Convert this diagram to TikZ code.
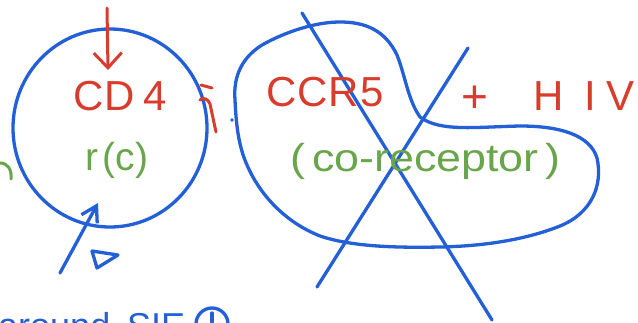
\documentclass[tikz,border=0pt]{standalone}
\usepackage{fontspec}
\setmainfont{Liberation Sans}
\usetikzlibrary{arrows.meta}
\definecolor{pen}{RGB}{35,95,215}
\definecolor{redpen}{RGB}{215,60,45}
\definecolor{greenpen}{RGB}{105,165,75}
\tikzset{
  ink/.style={draw=pen,line width=3.3pt,line cap=round,line join=round},
  redink/.style={draw=redpen,line width=3pt,line cap=round,line join=round},
  greenink/.style={draw=greenpen,line width=3pt,line cap=round},
  redtxt/.style={text=redpen,inner sep=0pt,font=\fontsize{42}{42}\selectfont},
  greentxt/.style={text=greenpen,inner sep=0pt,font=\fontsize{39}{39}\selectfont},
}
\begin{document}
\begin{tikzpicture}[x=1pt,y=-1pt]
\useasboundingbox (0,0) rectangle (638,322);
\clip (0,0) rectangle (638,322);
\fill[white] (0,0) rectangle (638,322);
% cell circle
\draw[ink] (110,128) ellipse [x radius=97,y radius=99];
% red arrow down to CD4
\draw[redink,-{Straight Barb[length=15pt,width=28pt]}] (107,8) -- (108,70);
\node[redtxt] (cd4) at (120,96) {C\kern1pt D\kern8pt 4};
\node[greentxt] (rc) at (117,160) {r\kern4pt(c)};
% blue arrow up
\draw[ink,-{Straight Barb[length=15pt,width=18pt]}] (60,273) -- (98,203);
\draw[ink] (92,251) -- (118,255) -- (97,268) -- cycle;
% green arc at left edge
\draw[greenink] (0,163) .. controls (8,163) and (12,170) .. (11,179);
% red mark
\draw[redink] (201,85) -- (212,88);
\draw[redink] (200,100) .. controls (204,97) and (208,99) .. (210,104) -- (216,132);
\fill[pen] (232,120) circle (1.8pt);
% blob
\draw[ink] (235,100) .. controls (233,75) and (243,57) .. (262,45)
  .. controls (285,32) and (315,22) .. (340,22)
  .. controls (365,22) and (385,30) .. (397,55)
  .. controls (405,75) and (408,100) .. (420,117)
  .. controls (440,132) and (475,127) .. (520,126)
  .. controls (560,126) and (590,135) .. (597,158)
  .. controls (603,185) and (592,213) .. (560,226)
  .. controls (530,238) and (490,246) .. (440,247)
  .. controls (390,248) and (350,246) .. (320,236)
  .. controls (285,222) and (260,195) .. (247,165)
  .. controls (238,145) and (236,122) .. (235,100);
% crossing lines
\draw[ink] (302,13) -- (492,320);
\draw[ink] (468,48) -- (317,287);
% labels
\node[redtxt] (ccr5) at (325,92) {C\kern1pt C\kern1pt R\kern1pt 5};
\node[greentxt,anchor=base west,xscale=1.15] (corec) at (290,171) {(\kern6pt co-receptor\kern6pt)};
\node[redtxt,font=\fontsize{46}{46}\selectfont] (plus) at (475,99) {+};
\node[redtxt] (hivh) at (549,96) {H};
\node[redtxt] (hivi) at (590,96) {I};
\node[redtxt] (hivv) at (621,96) {V};
% cut-off bottom text, as in the reference
\node[text=pen,inner sep=0pt,anchor=base west,font=\fontsize{36}{36}\selectfont] (bot) at (-2,338) {around};
\node[text=pen,inner sep=0pt,anchor=base west,font=\fontsize{36}{36}\selectfont] (sie) at (127,338) {SIE};
\draw[ink] (212,324) circle (16);
\draw[ink] (212,313) -- (212,322);
\end{tikzpicture}
\end{document}
